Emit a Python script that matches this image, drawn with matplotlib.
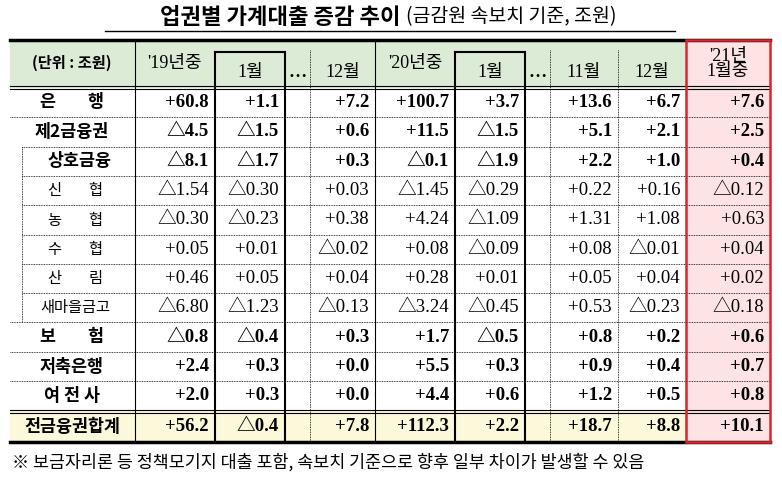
import matplotlib.pyplot as plt
from matplotlib.patches import Rectangle

FONT = ["Liberation Serif", "Noto Sans CJK KR", "DejaVu Sans"]
KFONT = ["Noto Sans CJK KR", "DejaVu Sans"]

title = "업권별 가계대출 증감 추이"
subtitle = "(금감원 속보치 기준, 조원)"
footnote = "※ 보금자리론 등 정책모기지 대출 포함, 속보치 기준으로 향후 일부 차이가 발생할 수 있음"

row_labels = ["은        행", "제2금융권", "상호금융", "신        협", "농        협", "수        협",
              "산        림", "새마을금고", "보        험", "저축은행", "여 전 사", "전금융권합계"]
bold_rows = [True, True, True, False, False, False, False, False, True, True, True, True]

col_headers = ["'19년중", "1월", "…", "12월", "'20년중", "1월", "…", "11월", "12월", "'21년\n1월중"]

y19 = ["+60.8", "△4.5", "△8.1", "△1.54", "△0.30", "+0.05", "+0.46", "△6.80", "△0.8", "+2.4", "+2.0", "+56.2"]
m19_1 = ["+1.1", "△1.5", "△1.7", "△0.30", "△0.23", "+0.01", "+0.05", "△1.23", "△0.4", "+0.3", "+0.3", "△0.4"]
m19_12 = ["+7.2", "+0.6", "+0.3", "+0.03", "+0.38", "△0.02", "+0.04", "△0.13", "+0.3", "+0.0", "+0.0", "+7.8"]
y20 = ["+100.7", "+11.5", "△0.1", "△1.45", "+4.24", "+0.08", "+0.28", "△3.24", "+1.7", "+5.5", "+4.4", "+112.3"]
m20_1 = ["+3.7", "△1.5", "△1.9", "△0.29", "△1.09", "△0.09", "+0.01", "△0.45", "△0.5", "+0.3", "+0.6", "+2.2"]
m20_11 = ["+13.6", "+5.1", "+2.2", "+0.22", "+1.31", "+0.08", "+0.05", "+0.53", "+0.8", "+0.9", "+1.2", "+18.7"]
m20_12 = ["+6.7", "+2.1", "+1.0", "+0.16", "+1.08", "△0.01", "+0.04", "△0.23", "+0.2", "+0.4", "+0.5", "+8.8"]
m21_1 = ["+7.6", "+2.5", "+0.4", "△0.12", "+0.63", "+0.04", "+0.02", "△0.18", "+0.6", "+0.7", "+0.8", "+10.1"]
columns = [y19, m19_1, None, m19_12, y20, m20_1, None, m20_11, m20_12, m21_1]

col_x = [10, 135, 215, 285, 310, 375, 455, 525, 550, 618, 686, 770]
row_y = [87, 117, 147, 176, 205, 235, 264, 293, 322, 352, 381, 411, 442]
head_top = 40

fig = plt.figure(figsize=(7.82, 4.78), dpi=100)
ax = fig.add_axes([0, 0, 1, 1])
ax.set_xlim(0, 782)
ax.set_ylim(478, 0)
ax.axis("off")

# title
ax.text(400, 17, title, ha="right", va="center", fontsize=16, fontweight="bold", family=KFONT)
ax.text(406, 17, subtitle, ha="left", va="center", fontsize=14, family=KFONT)
ax.plot([105, 675], [31, 31], color="black", lw=1)

# fills
ax.add_patch(Rectangle((col_x[0], head_top), col_x[-1] - col_x[0], row_y[0] - head_top, color="#dcebd6", zorder=0))
ax.add_patch(Rectangle((col_x[0], row_y[-2]), col_x[-1] - col_x[0], row_y[-1] - row_y[-2], color="#fcf8da", zorder=0))
ax.add_patch(Rectangle((col_x[-2], head_top), col_x[-1] - col_x[-2], row_y[-1] - head_top, color="#fde3e3", zorder=0.5))

# horizontal lines
ax.plot([col_x[0], col_x[-1]], [head_top, head_top], color="black", lw=2.5)
ax.plot([col_x[0], col_x[-1]], [row_y[0] - 1.5, row_y[0] - 1.5], color="black", lw=0.8)
ax.plot([col_x[0], col_x[-1]], [row_y[0] + 1.5, row_y[0] + 1.5], color="black", lw=0.8)
ax.plot([col_x[0], col_x[-1]], [row_y[-2] - 1.5, row_y[-2] - 1.5], color="black", lw=0.8)
ax.plot([col_x[0], col_x[-1]], [row_y[-2] + 1.5, row_y[-2] + 1.5], color="black", lw=0.8)
ax.plot([col_x[0], col_x[-1]], [row_y[-1], row_y[-1]], color="black", lw=2.5)
for i, y in enumerate(row_y[1:-2]):
    x0 = 22 if 2 <= i + 1 <= 7 else col_x[0]
    ax.plot([x0, col_x[-1]], [y, y], color="black", lw=0.6, ls=(0, (1, 1)))

# vertical lines
for k, x in enumerate(col_x[1:-1], start=1):
    if k in (2, 3, 6, 7):
        ax.plot([x, x], [52, row_y[-1]], color="black", lw=1.5)
    elif k in (1, 5):
        ax.plot([x, x], [head_top, row_y[-1]], color="black", lw=0.8)
    else:
        ax.plot([x, x], [head_top + 10, row_y[-1]], color="black", lw=0.6, ls=(0, (1, 1)))
for k in (1, 5):
    ax.plot([col_x[k + 1], col_x[k + 2]], [52, 52], color="black", lw=1.5)
ax.plot([22, 22], [row_y[2], row_y[8]], color="black", lw=0.6, ls=(0, (1, 1)))
ax.add_patch(Rectangle((col_x[-2], head_top), col_x[-1] - col_x[-2], row_y[-1] - head_top,
                       fill=False, ec="#d9262c", lw=1.8, zorder=3))

# header text
ax.text(72, 63, "(단위 : 조원)", ha="center", va="center", fontsize=11, fontweight="bold", family=KFONT)
for k, h in enumerate(col_headers):
    cx = (col_x[k + 1] + col_x[k + 2]) / 2
    cy = 72 if k in (1, 3, 5, 7, 8) else 63
    if k == 9:
        cy = 64
    if h == "…":
        cy = 72
    ax.text(cx, cy, h, ha="center", va="center", fontsize=13, family=FONT, linespacing=0.9,
            fontweight="bold" if h == "…" else "normal")

# body
for r, lab in enumerate(row_labels):
    cy = (row_y[r] + row_y[r + 1]) / 2
    if 3 <= r <= 7:
        ax.text(75, cy, lab, ha="center", va="center", fontsize=11, family=KFONT)
    elif r == 2:
        ax.text(80, cy, lab, ha="center", va="center", fontsize=12.5, fontweight="bold", family=KFONT)
    else:
        ax.text(72, cy, lab, ha="center", va="center", fontsize=12.5, fontweight="bold", family=KFONT)
    for k, col in enumerate(columns):
        if col is None:
            continue
        ax.text(col_x[k + 2] - 6, cy, col[r], ha="right", va="center", fontsize=13.5, family=FONT,
                fontweight="bold" if bold_rows[r] else "normal")

ax.text(12, 462, footnote, ha="left", va="center", fontsize=12.5, family=KFONT)

fig.savefig("out.png", dpi=100)
